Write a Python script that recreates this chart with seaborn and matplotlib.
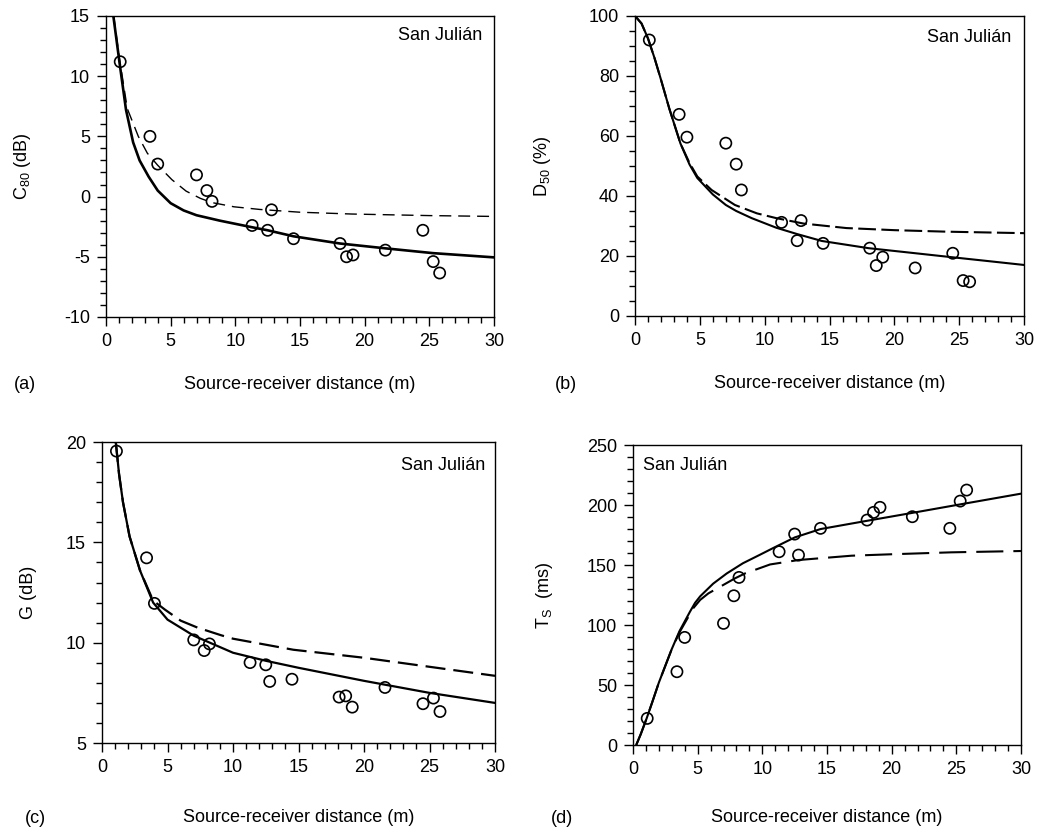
import matplotlib
matplotlib.use("Agg")
import matplotlib.pyplot as plt
from matplotlib.ticker import MultipleLocator
import seaborn as sns

# --- measured points (same receiver positions in every panel) ---
x_meas = [1.1, 3.4, 4.0, 7.0, 7.8, 8.2, 11.3, 12.5, 12.8, 14.5, 18.1, 18.6, 19.1, 21.6, 24.5, 25.3, 25.8]
c80_meas = [11.2, 5.0, 2.7, 1.8, 0.5, -0.4, -2.4, -2.8, -1.1, -3.5, -3.9, -5.0, -4.85, -4.45, -2.8, -5.4, -6.35]
d50_meas = [92, 67.2, 59.6, 57.6, 50.6, 42, 31.2, 25.1, 31.8, 24.2, 22.6, 16.8, 19.6, 16, 20.9, 11.8, 11.4]
g_meas = [19.55, 14.23, 11.96, 10.14, 9.61, 9.94, 9.01, 8.9, 8.07, 8.18, 7.29, 7.35, 6.79, 7.77, 6.96, 7.24, 6.57]
ts_meas = [22.2, 61.1, 89.7, 101.4, 124.4, 139.7, 161.1, 175.8, 158.3, 180.6, 187.5, 193.9, 198.1, 190.3, 180.6, 203.3, 212.5]

# --- curves: solid and dashed model ---
c80_solid_x = [0.57, 1.05, 1.55, 2.1, 2.6, 3.3, 4.0, 5.0, 6.0, 7.0, 8.8, 11.3, 12.5, 14.5, 18.1, 21.6, 25.3, 30]
c80_solid_y = [15, 11.1, 7.2, 4.5, 3.0, 1.65, 0.5, -0.55, -1.15, -1.55, -2.0, -2.55, -2.8, -3.3, -3.9, -4.3, -4.7, -5.05]
c80_dash_x = [0.6, 1.05, 1.65, 2.5, 3.2, 4.0, 5.1, 6.2, 7.3, 8.2, 9.9, 11.9, 15, 19, 25, 30]
c80_dash_y = [15, 11.4, 7.3, 5.0, 3.6, 2.6, 1.4, 0.45, -0.15, -0.5, -0.85, -1.07, -1.3, -1.45, -1.58, -1.65]

d50_solid_x = [0, 0.5, 1.0, 1.5, 1.95, 2.65, 3.5, 4.2, 4.8, 6.0, 7.0, 7.8, 9.0, 10.9, 12.5, 14.4, 18, 21, 24.4, 27, 30]
d50_solid_y = [100, 97.5, 92.5, 86, 79.5, 69, 57.5, 50.5, 46, 40.5, 37, 35, 32.6, 29.4, 27.3, 25.0, 22.6, 21.2, 19.6, 18.4, 17]
d50_dash_x = [0, 0.5, 1.0, 1.5, 1.95, 2.65, 3.5, 4.2, 4.8, 5.9, 7.7, 9.4, 10.9, 13, 16.3, 20, 24, 30]
d50_dash_y = [100, 97.5, 92.5, 86, 79.5, 69, 57.5, 51, 46.5, 42, 37, 34.2, 32.6, 30.8, 29.3, 28.6, 28.1, 27.6]

g_solid_x = [1.05, 1.3, 1.6, 2.1, 2.9, 3.9, 5.0, 7.0, 10, 12.5, 15, 20, 25, 30]
g_solid_y = [20, 18.4, 17, 15.3, 13.6, 12.0, 11.15, 10.35, 9.5, 9.1, 8.75, 8.1, 7.5, 7.0]
g_dash_x = [1.05, 1.3, 1.6, 2.1, 2.9, 3.9, 4.8, 6.0, 7.3, 9.1, 10, 14.6, 20, 25, 30]
g_dash_y = [20, 18.4, 17, 15.3, 13.6, 12.1, 11.65, 11.1, 10.75, 10.37, 10.2, 9.65, 9.25, 8.8, 8.35]

ts_solid_x = [0.25, 0.6, 1.05, 1.5, 2.0, 2.5, 3.0, 3.6, 4.4, 4.8, 5.2, 6.2, 7.25, 8.5, 9.8, 10.9, 12.5, 14.5, 18, 21.5, 25, 30]
ts_solid_y = [0, 9, 22, 36, 52, 66, 80, 95, 111, 118.5, 124, 134.5, 143, 151.5, 158.5, 164.5, 173, 180, 186.7, 193.3, 200, 209.5]
ts_dash_x = [0.25, 0.6, 1.05, 1.5, 2.0, 2.5, 3.0, 3.6, 4.66, 5.2, 5.83, 7.9, 8.66, 10.6, 12.8, 16.9, 20, 24.6, 30]
ts_dash_y = [0, 9, 22, 36, 52, 66, 80, 94, 114, 121, 126.4, 139, 143, 150.5, 154.2, 157.8, 159, 160.6, 161.7]

sns.set_style("ticks")
plt.rcParams['font.family'] = ['Liberation Sans', 'DejaVu Sans']
plt.rcParams['mathtext.default'] = 'regular'
plt.rcParams['font.size'] = 13
plt.rcParams['axes.unicode_minus'] = False
for k in ['text.color', 'axes.labelcolor', 'xtick.color', 'ytick.color', 'axes.edgecolor']:
    plt.rcParams[k] = 'black'

fig = plt.figure(figsize=(10.38, 8.33), dpi=100)

# panel geometry in figure fraction
panels = [
    dict(rect=[0.1021, 0.6195, 0.3738, 0.3613], meas=c80_meas,
         solid=(c80_solid_x, c80_solid_y), dash=(c80_dash_x, c80_dash_y),
         ylim=(-10, 15), ymaj=5, ymin=1, ylabel='C$_{80}$ (dB)',
         solid_lw=1.9, dash_lw=1.0, dashes=(8.6, 5.0),
         txt=(0.97, 0.965, 'right'), tag='(a)', tag_xy=(0.024, 0.538),
         xlab_y=-0.226, ylab_x=-0.216),
    dict(rect=[0.6118, 0.6207, 0.3748, 0.3601], meas=d50_meas,
         solid=(d50_solid_x, d50_solid_y), dash=(d50_dash_x, d50_dash_y),
         ylim=(0, 100), ymaj=20, ymin=5, ylabel='D$_{50}$ (%)',
         solid_lw=1.5, dash_lw=1.5, dashes=(8.5, 2.6),
         txt=(0.967, 0.955, 'right'), tag='(b)', tag_xy=(0.545, 0.538),
         xlab_y=-0.226, ylab_x=-0.237),
    dict(rect=[0.0983, 0.1080, 0.3786, 0.3613], meas=g_meas,
         solid=(g_solid_x, g_solid_y), dash=(g_dash_x, g_dash_y),
         ylim=(5, 20), ymaj=5, ymin=1, ylabel='G (dB)',
         solid_lw=1.6, dash_lw=1.6, dashes=(9.0, 3.6),
         txt=(0.975, 0.952, 'right'), tag='(c)', tag_xy=(0.034, 0.018),
         xlab_y=-0.249, ylab_x=-0.188),
    dict(rect=[0.6098, 0.1056, 0.3738, 0.3601], meas=ts_meas,
         solid=(ts_solid_x, ts_solid_y), dash=(ts_dash_x, ts_dash_y),
         ylim=(0, 250), ymaj=50, ymin=10, ylabel='T$_S$  (ms)',
         solid_lw=1.5, dash_lw=1.5, dashes=(13.0, 4.8),
         txt=(0.026, 0.96, 'left'), tag='(d)', tag_xy=(0.541, 0.018),
         xlab_y=-0.243, ylab_x=-0.227),
]

for p in panels:
    ax = fig.add_axes(p['rect'])
    sns.lineplot(x=p['solid'][0], y=p['solid'][1], ax=ax, color='black',
                 lw=p['solid_lw'], sort=False, estimator=None)
    sns.lineplot(x=p['dash'][0], y=p['dash'][1], ax=ax, color='black',
                 lw=p['dash_lw'], sort=False, estimator=None)
    ax.lines[-1].set_dashes(p['dashes'])
    sns.scatterplot(x=x_meas, y=p['meas'], ax=ax, marker='o', s=65,
                    facecolor='none', edgecolor='black', linewidth=1.2, zorder=3)

    ax.set_xlim(0, 30)
    ax.set_ylim(*p['ylim'])
    ax.xaxis.set_major_locator(MultipleLocator(5))
    ax.xaxis.set_minor_locator(MultipleLocator(1))
    ax.yaxis.set_major_locator(MultipleLocator(p['ymaj']))
    ax.yaxis.set_minor_locator(MultipleLocator(p['ymin']))
    ax.tick_params(which='major', direction='out', length=6.5, width=1.0,
                   labelsize=13, pad=5, top=False, right=False, colors='black')
    ax.tick_params(which='minor', direction='out', length=4.3, width=1.0,
                   top=False, right=False, colors='black')
    for s in ax.spines.values():
        s.set_linewidth(1.0)
        s.set_color('black')

    ax.set_xlabel('Source-receiver distance (m)', fontsize=13)
    ax.xaxis.label.set_va('center')
    ax.xaxis.set_label_coords(0.5, p['xlab_y'])
    ax.set_ylabel(p['ylabel'], fontsize=13)
    ax.yaxis.label.set_va('center')
    ax.yaxis.set_label_coords(p['ylab_x'], 0.5)

    tx, ty, ha = p['txt']
    ax.text(tx, ty, 'San Julián', transform=ax.transAxes, ha=ha, va='top', fontsize=13)
    fig.text(p['tag_xy'][0], p['tag_xy'][1], p['tag'], ha='center', va='center', fontsize=13)

fig.savefig('out.png', dpi=100)
